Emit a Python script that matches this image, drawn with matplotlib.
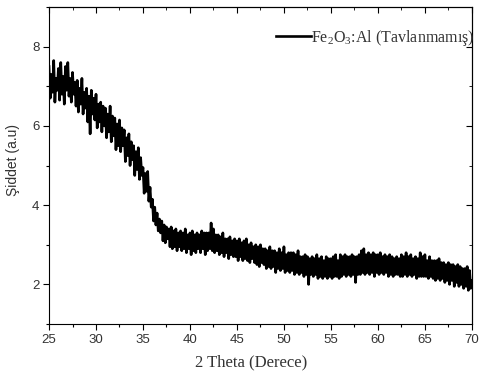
import numpy as np
import matplotlib
matplotlib.use("Agg")
import matplotlib.pyplot as plt

# XRD taraması: 25-70 derece, 0.125 adım (her satır 1 derece)
theta_start, theta_end = 25, 70
intensity = [
    7.50, 6.70, 7.30, 6.85, 7.65, 6.60, 7.20, 6.90,
    7.45, 6.65, 7.60, 6.80, 7.25, 6.55, 7.50, 6.90,
    7.60, 6.75, 7.20, 6.60, 7.35, 6.80, 7.10, 6.50,
    7.15, 6.35, 6.95, 6.55, 7.20, 6.30, 6.85, 6.45,
    6.95, 6.10, 6.75, 5.80, 6.90, 6.30, 6.70, 6.15,
    6.80, 5.95, 6.55, 6.10, 6.60, 5.85, 6.50, 6.00,
    6.45, 5.70, 6.30, 5.85, 6.50, 5.60, 6.25, 5.75,
    6.20, 5.40, 6.05, 5.50, 6.15, 5.35, 5.95, 5.50,
    5.90, 5.10, 5.70, 5.25, 5.80, 5.00, 5.60, 5.15,
    5.50, 4.75, 5.35, 4.90, 5.45, 4.65, 5.20, 4.75,
    4.95, 4.30, 4.80, 4.35, 4.85, 4.10, 4.45, 3.95,
    4.15, 3.60, 3.95, 3.50, 3.80, 3.35, 3.65, 3.30,
    3.60, 3.10, 3.50, 3.05, 3.45, 3.15, 3.40, 2.95,
    3.45, 2.90, 3.35, 2.95, 3.40, 2.85, 3.30, 2.95,
    3.35, 2.85, 3.30, 2.90, 3.40, 2.80, 3.25, 2.90,
    3.30, 2.75, 3.35, 2.85, 3.25, 2.80, 3.30, 2.90,
    3.25, 2.80, 3.35, 2.90, 3.30, 2.75, 3.30, 2.85,
    3.30, 2.90, 3.55, 2.85, 3.40, 2.80, 3.25, 2.85,
    3.25, 2.75, 3.20, 2.80, 3.30, 2.70, 3.15, 2.80,
    3.15, 2.65, 3.20, 2.75, 3.10, 2.70, 3.15, 2.70,
    3.10, 2.60, 3.15, 2.70, 3.05, 2.60, 3.10, 2.65,
    3.15, 2.60, 3.00, 2.55, 3.05, 2.65, 2.95, 2.55,
    3.00, 2.50, 2.95, 2.45, 3.00, 2.55, 2.90, 2.50,
    2.90, 2.40, 2.85, 2.45, 2.95, 2.40, 2.85, 2.45,
    2.85, 2.30, 2.80, 2.40, 2.90, 2.35, 2.80, 2.40,
    2.95, 2.30, 2.75, 2.35, 2.80, 2.30, 2.80, 2.35,
    2.80, 2.25, 2.75, 2.30, 2.85, 2.25, 2.70, 2.30,
    2.70, 2.20, 2.75, 2.25, 2.70, 2.00, 2.65, 2.25,
    2.70, 2.20, 2.65, 2.25, 2.75, 2.15, 2.65, 2.20,
    2.70, 2.15, 2.60, 2.20, 2.70, 2.15, 2.65, 2.20,
    2.65, 2.15, 2.70, 2.20, 2.75, 2.20, 2.60, 2.15,
    2.75, 2.20, 2.70, 2.25, 2.75, 2.20, 2.70, 2.25,
    2.70, 2.20, 2.75, 2.25, 2.70, 2.05, 2.70, 2.25,
    2.75, 2.25, 2.85, 2.30, 2.90, 2.25, 2.75, 2.30,
    2.80, 2.25, 2.75, 2.30, 2.80, 2.20, 2.75, 2.30,
    2.75, 2.25, 2.80, 2.30, 2.70, 2.25, 2.75, 2.30,
    2.70, 2.20, 2.75, 2.25, 2.70, 2.20, 2.65, 2.25,
    2.70, 2.25, 2.65, 2.20, 2.75, 2.20, 2.70, 2.25,
    2.80, 2.20, 2.70, 2.25, 2.75, 2.20, 2.65, 2.25,
    2.70, 2.15, 2.65, 2.20, 2.80, 2.20, 2.70, 2.20,
    2.75, 2.20, 2.60, 2.15, 2.70, 2.20, 2.60, 2.15,
    2.60, 2.10, 2.60, 2.15, 2.65, 2.10, 2.55, 2.15,
    2.55, 2.05, 2.50, 2.10, 2.55, 2.00, 2.50, 2.10,
    2.50, 1.95, 2.45, 2.05, 2.50, 1.95, 2.45, 2.00,
    2.40, 1.90, 2.40, 1.95, 2.45, 1.85, 2.35, 1.90,
    2.10,
]
two_theta = np.linspace(theta_start, theta_end, len(intensity))

x_ticks = [25, 30, 35, 40, 45, 50, 55, 60, 65, 70]
y_ticks = [2, 4, 6, 8]
legend_label = "Fe$_2$O$_3$:Al (Tavlanmamış)"

plt.rcParams['mathtext.fontset'] = 'custom'
plt.rcParams['mathtext.rm'] = 'Liberation Serif'
plt.rcParams['mathtext.it'] = 'Liberation Serif:italic'

fig = plt.figure(figsize=(4.82, 3.72), dpi=100)
ax = fig.add_axes([0.1017, 0.129, 0.8773, 0.852])

ax.plot(two_theta, intensity, color='black', linewidth=1.9, label=legend_label)

ax.set_xlim(25, 70)
ax.set_ylim(1, 9)
ax.set_xticks(x_ticks)
ax.set_yticks(y_ticks)
ax.set_xticks(np.arange(27.5, 70, 5), minor=True)
ax.set_yticks([1, 3, 5, 7, 9], minor=True)

for lbl in ax.get_xticklabels() + ax.get_yticklabels():
    lbl.set_family('Liberation Sans')
    lbl.set_fontsize(9.5)
    lbl.set_color('#333333')

ax.tick_params(which='both', direction='out', top=False, right=False)
ax.tick_params(which='major', length=4, width=0.8, pad=3)
ax.tick_params(which='minor', length=2.5, width=0.8)

# Origin tarzı: üst ve sağ kenarda içe bakan çentikler
top = ax.secondary_xaxis('top')
top.set_xticks(x_ticks)
top.set_xticks(np.arange(27.5, 70, 5), minor=True)
top.tick_params(which='both', direction='in', labeltop=False)
top.tick_params(which='major', length=4)
top.tick_params(which='minor', length=2.5)
right = ax.secondary_yaxis('right')
right.set_yticks(y_ticks)
right.set_yticks([1, 3, 5, 7, 9], minor=True)
right.tick_params(which='both', direction='in', labelright=False)
right.tick_params(which='major', length=4)
right.tick_params(which='minor', length=2.5)

ax.set_xlabel('2 Theta (Derece)', family='Liberation Serif', fontsize=12,
              color='#333333')
ax.xaxis.set_label_coords((251 - 49) / 423, -0.097, transform=ax.transAxes)
ax.set_ylabel('Şiddet (a.u)', family='Liberation Sans', fontsize=10,
              color='#333333')
ax.yaxis.set_label_coords(-0.068, (372 - 160 - 48) / 317, transform=ax.transAxes)

leg = ax.legend(loc='upper right', bbox_to_anchor=(1.028, 0.965), frameon=False,
                prop={'family': 'Liberation Serif', 'size': 11.5},
                handlelength=2.2, handletextpad=0.0, borderaxespad=0.2)
for t in leg.get_texts():
    t.set_color('#333333')

fig.savefig('out.png', dpi=100)
